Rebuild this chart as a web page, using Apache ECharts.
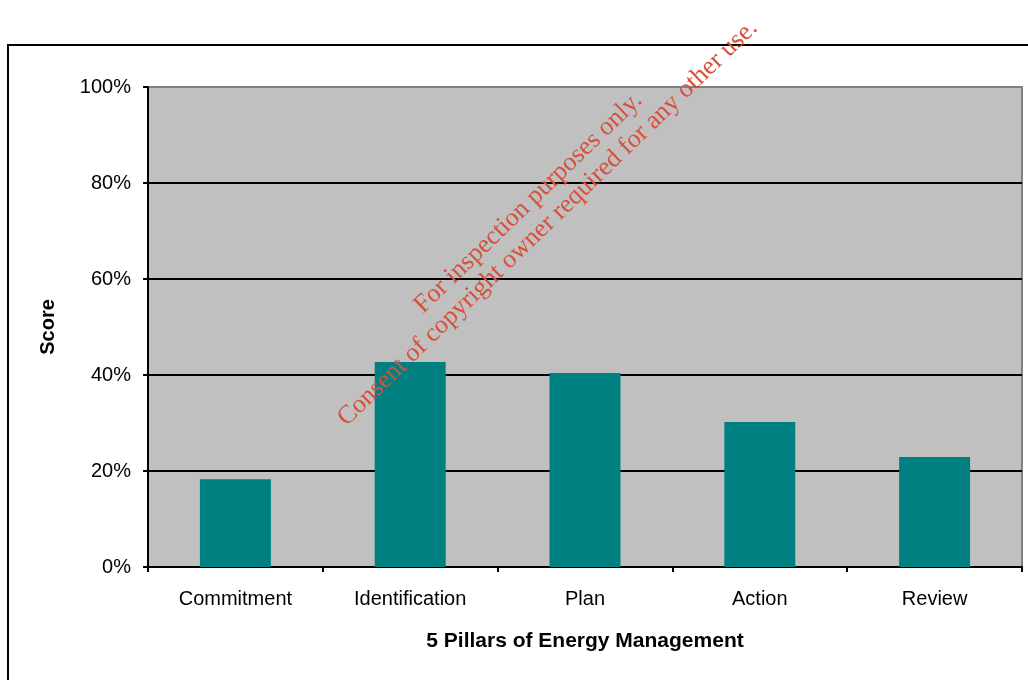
<!DOCTYPE html>
<html>
<head>
<meta charset="utf-8">
<script src="https://cdn.jsdelivr.net/npm/echarts@6/dist/echarts.min.js"></script>
<style>
  html, body { margin: 0; padding: 0; background: #ffffff; }
  #chart { width: 1028px; height: 680px; }
</style>
</head>
<body>
<div id="chart"></div>
<script>
// Scores for the five pillars of energy management (percent)
const categories = ['Commitment', 'Identification', 'Plan', 'Action', 'Review'];
const scores = [18.3, 42.7, 40.4, 30.2, 22.9];
const yTicks = { min: 0, max: 100, interval: 20 };

const FONT = '"Liberation Sans", Arial, sans-serif';

const chart = echarts.init(document.getElementById('chart'));
chart.setOption({
  backgroundColor: '#ffffff',
  animation: false,
  grid: {
    left: 148, right: 6, top: 87, bottom: 113,
    show: true,
    backgroundColor: '#c0c0c0',
    borderColor: '#808080',
    borderWidth: 2
  },
  xAxis: {
    type: 'category',
    data: categories,
    name: '5 Pillars of Energy Management',
    nameLocation: 'middle',
    nameGap: 64,
    nameTextStyle: { fontFamily: FONT, fontSize: 21, fontWeight: 'bold', color: '#000' },
    axisLine: { lineStyle: { color: '#000', width: 2 } },
    axisTick: { show: true, length: 5, alignWithLabel: false, lineStyle: { color: '#000', width: 2 } },
    axisLabel: { fontFamily: FONT, fontSize: 20, color: '#000', margin: 22 },
    splitLine: { show: false }
  },
  yAxis: {
    type: 'value',
    min: yTicks.min, max: yTicks.max, interval: yTicks.interval,
    name: 'Score',
    nameLocation: 'middle',
    nameGap: 90,
    nameTextStyle: { fontFamily: FONT, fontSize: 20, fontWeight: 'bold', color: '#000' },
    axisLine: { show: true, lineStyle: { color: '#000', width: 2 } },
    axisTick: { show: true, length: 5, lineStyle: { color: '#000', width: 2 } },
    axisLabel: { fontFamily: FONT, fontSize: 20, color: '#000', margin: 17, formatter: '{value}%' },
    splitLine: {
      show: true,
      lineStyle: { color: ['#000', '#000', '#000', '#000', '#000', '#808080'], width: 2 }
    }
  },
  series: [{
    type: 'bar',
    data: scores,
    barWidth: '40.6%',
    itemStyle: { color: '#008080' },
    silent: true
  }],
  graphic: [
    {
      // outer frame around the chart area
      type: 'rect',
      shape: { x: 8, y: 45, width: 1100, height: 700 },
      style: { fill: 'none', stroke: '#000', lineWidth: 2 },
      silent: true,
      z: -1
    },
    {
      type: 'text',
      x: 538, y: 213,
      rotation: 44 * Math.PI / 180,
      style: {
        text: 'For inspection purposes only.\nConsent of copyright owner required for any other use.',
        font: '26px "Liberation Serif", "Times New Roman", serif',
        fill: '#d6503c',
        textAlign: 'center',
        textVerticalAlign: 'middle',
        lineHeight: 28
      },
      silent: true,
      z: 100
    }
  ]
});
</script>
</body>
</html>
